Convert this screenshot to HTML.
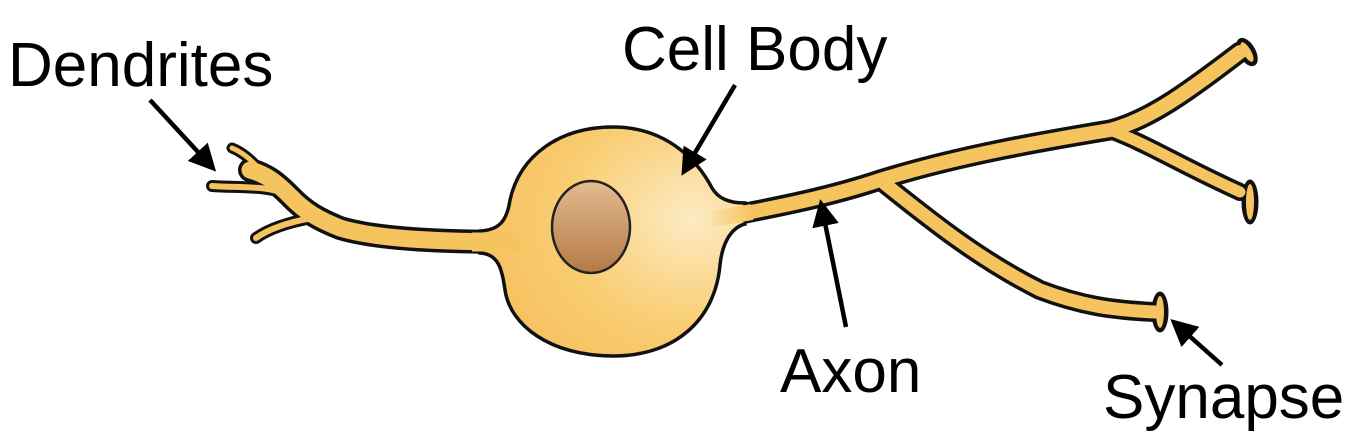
<!DOCTYPE html>
<html><head><meta charset="utf-8"><style>
html,body{margin:0;padding:0;background:#fff;}
svg{display:block}
text{font-family:"Liberation Sans",sans-serif;font-size:62px;fill:#000}
</style></head><body>
<svg width="1356" height="436" viewBox="0 0 1356 436" xmlns="http://www.w3.org/2000/svg">
<defs>
<radialGradient id="bg" cx="0.8" cy="0.4" r="0.8">
<stop offset="0" stop-color="#fdeac3"/><stop offset="0.6" stop-color="#f9cd72"/><stop offset="1" stop-color="#f6c160"/></radialGradient>
<linearGradient id="ng" x1="0" y1="0" x2="0" y2="1">
<stop offset="0" stop-color="#e4bb90"/><stop offset="1" stop-color="#b47a45"/></linearGradient>
<linearGradient id="ag" x1="0" y1="0" x2="1" y2="0">
<stop offset="0" stop-color="#fbe0a8"/><stop offset="1" stop-color="#f6c45f"/></linearGradient>
<marker id="ah" markerWidth="6" markerHeight="6" refX="4" refY="3" orient="auto" markerUnits="strokeWidth">
<path d="M0,0 L6,3 L0,6 z" fill="#000"/></marker>
</defs>
<g fill="none" stroke-linecap="round" stroke-linejoin="round">
<g stroke="#111">
<path d="M520,242 C450,242 380,240 340,228 C320,220 305,212 290,196 C278,184 268,175 250,170" stroke-width="24"/>
<path d="M290,196 C270,185 240,188 212,186" stroke-width="12"/>
<path d="M262,172 C252,160 242,152 232,148" stroke-width="11"/>
<path d="M312,218 C290,222 270,228 256,238" stroke-width="12"/>
<path d="M700,222 C760,210 820,200 880,180 C960,155 1050,140 1110,130 C1150,120 1190,90 1240,52" stroke-width="21"/>
<path d="M1110,130 C1150,145 1180,165 1240,192" stroke-width="18"/>
<path d="M885,184 C930,220 980,260 1040,290 C1080,305 1110,310 1155,312" stroke-width="20"/>
<ellipse cx="1247" cy="52" rx="8" ry="15" transform="rotate(-30 1247 52)" fill="#111"/>
<ellipse cx="1250" cy="202" rx="8" ry="22" fill="#111"/>
<ellipse cx="1160" cy="312" rx="8" ry="20" fill="#111"/>
</g>
<g stroke="#f6c45f">
<path d="M520,242 C450,242 380,240 340,228 C320,220 305,212 290,196 C278,184 268,175 250,170" stroke-width="17"/>
<path d="M290,196 C270,185 240,188 212,186" stroke-width="6"/>
<path d="M262,172 C252,160 242,152 232,148" stroke-width="5"/>
<path d="M312,218 C290,222 270,228 256,238" stroke-width="6"/>
<path d="M700,222 C760,210 820,200 880,180 C960,155 1050,140 1110,130 C1150,120 1190,90 1240,52" stroke-width="14"/>
<path d="M1110,130 C1150,145 1180,165 1240,192" stroke-width="11"/>
<path d="M885,184 C930,220 980,260 1040,290 C1080,305 1110,310 1155,312" stroke-width="13"/>
<ellipse cx="1247" cy="52" rx="4" ry="11" transform="rotate(-30 1247 52)" fill="#f6c45f" stroke="none"/>
<ellipse cx="1250" cy="202" rx="4" ry="18" fill="#f6c45f" stroke="none"/>
<ellipse cx="1160" cy="312" rx="4" ry="16" fill="#f6c45f" stroke="none"/>
</g>
</g>
<path d="M613,127 C670,127 700,165 712,188 C718,198 728,203 745,203 L745,224 C730,228 722,245 720,265 C715,320 675,356 613,356 C550,356 510,325 505,290 C502,268 498,254 480,253 L480,231 C500,230 507,220 510,200 C520,155 560,127 613,127 Z" fill="url(#bg)" stroke="#111" stroke-width="3.5"/>
<path d="M712,219 L752,212" stroke="url(#ag)" stroke-width="16" stroke-linecap="butt"/>
<path d="M472,242 L520,242" stroke="#f6c45f" stroke-width="19" stroke-linecap="butt"/>
<ellipse cx="591" cy="227" rx="39" ry="46" fill="url(#ng)" stroke="#222" stroke-width="2.5"/>
<g stroke="#000" stroke-width="4.5" fill="none">
<line x1="150" y1="100" x2="210" y2="165" marker-end="url(#ah)"/>
<line x1="735" y1="85" x2="686" y2="168" marker-end="url(#ah)"/>
<line x1="846" y1="327" x2="822" y2="208" marker-end="url(#ah)"/>
<line x1="1222" y1="365" x2="1177" y2="325" marker-end="url(#ah)"/>
</g>
<text x="8" y="86">Dendrites</text>
<text x="622" y="70">Cell Body</text>
<text x="780" y="392">Axon</text>
<text x="1103" y="418">Synapse</text>
</svg>
</body></html>
